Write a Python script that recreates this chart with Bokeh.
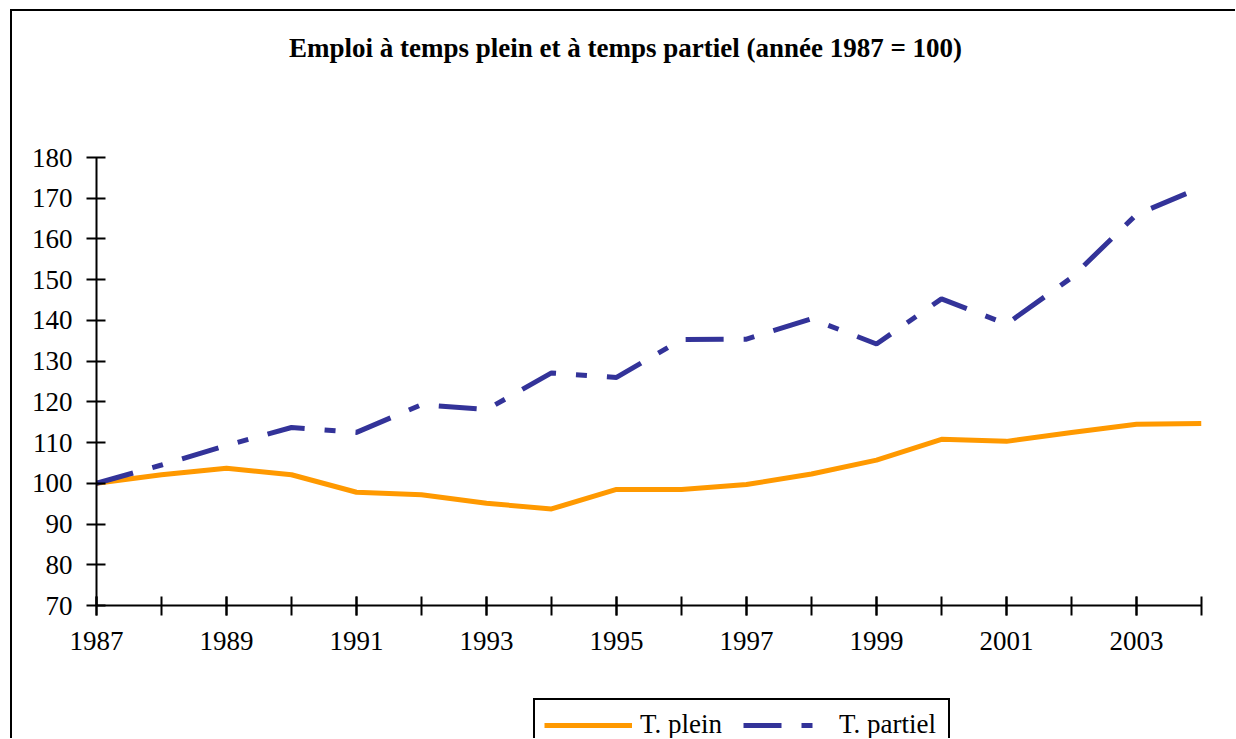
from bokeh.plotting import figure
from bokeh.layouts import column
from bokeh.models import Range1d, FixedTicker, Legend, LegendItem, Label
from bokeh.embed import file_html
from bokeh.resources import INLINE

years = list(range(1987, 2005))
plein = [100, 102.1, 103.7, 102.1, 97.8, 97.2, 95.1, 93.7, 98.5, 98.5,
         99.7, 102.3, 105.7, 110.8, 110.3, 112.5, 114.5, 114.7]
partiel = [100, 104.5, 109.3, 113.7, 112.5, 119.3, 118.1, 127.1, 126.0, 135.3,
           135.4, 140.4, 134.2, 145.3, 139.1, 150.5, 166.0, 172.7]
label_years = [y for y in years if (y - 1987) % 2 == 0]
y_ticks = list(range(70, 181, 10))
title_text = "Emploi à temps plein et à temps partiel (année 1987 = 100)"
series_names = ["T. plein", "T. partiel"]

FONT = "Liberation Serif"
ORANGE = "#FF9900"
BLUE = "#333399"
DASH = "38 20 11 20"
W = 1223
FRAME_W = 1105


def blank(fig):
    fig.outline_line_color = None
    fig.background_fill_color = "white"
    fig.border_fill_color = "white"
    fig.xgrid.visible = False
    fig.ygrid.visible = False


# --- title strip (its frame is aligned with the chart frame by the column) ---
H0 = 89
p0 = figure(width=W, height=H0, output_backend="svg", toolbar_location=None,
            x_range=Range1d(0, FRAME_W), y_range=Range1d(0, H0),
            x_axis_type=None, y_axis_type=None, title=None,
            min_border=0, min_border_left=0, min_border_right=0,
            min_border_top=0, min_border_bottom=0)
blank(p0)
p0.add_layout(Label(x=529, y=53, text=title_text, text_font=FONT,
                    text_font_size="27px", text_font_style="bold",
                    text_align="center", text_baseline="middle",
                    text_color="black"))

# --- main chart ---
p = figure(width=W, height=590, output_backend="svg", toolbar_location=None,
           x_range=Range1d(1987, 2004), y_range=Range1d(70, 180), title=None,
           min_border_left=84, min_border_top=57, min_border_right=34,
           min_border_bottom=85)
blank(p)

p.line(years, plein, line_color=ORANGE, line_width=5)
p.line(years, partiel, line_color=BLUE, line_width=5, line_dash=DASH)

for ax in (p.xaxis[0], p.yaxis[0]):
    ax.axis_line_color = "black"
    ax.axis_line_width = 2
    ax.major_tick_line_color = "black"
    ax.major_tick_line_width = 2
    ax.major_tick_in = 9
    ax.major_tick_out = 10
    ax.minor_tick_line_color = "black"
    ax.minor_tick_line_width = 2
    ax.minor_tick_in = 9
    ax.minor_tick_out = 10
    ax.major_label_text_font = FONT
    ax.major_label_text_font_size = "27px"
    ax.major_label_text_color = "black"

p.xaxis[0].ticker = FixedTicker(ticks=label_years, minor_ticks=years)
p.xaxis[0].major_label_standoff = 16
p.yaxis[0].ticker = FixedTicker(ticks=y_ticks, minor_ticks=[])
p.yaxis[0].major_label_standoff = 14

# --- legend strip (series drawn outside its visible range, only the legend shows) ---
H2 = 48
p2 = figure(width=W, height=H2, output_backend="svg", toolbar_location=None,
            x_range=Range1d(0, 1), y_range=Range1d(0, 1),
            x_axis_type=None, y_axis_type=None, title=None,
            min_border=0, min_border_left=0, min_border_right=0,
            min_border_top=0, min_border_bottom=0)
blank(p2)
l1 = p2.line(years, plein, line_color=ORANGE, line_width=5)
l2 = p2.line(years, partiel, line_color=BLUE, line_width=5, line_dash=DASH)
legend = Legend(items=[LegendItem(label=series_names[0], renderers=[l1]),
                       LegendItem(label=series_names[1], renderers=[l2])],
                orientation="horizontal", location=(437, -13),
                label_text_font=FONT, label_text_font_size="27px",
                label_text_color="black", label_width=100,
                glyph_width=88, glyph_height=20, label_standoff=8, spacing=3,
                padding=9, margin=0, border_line_color="black",
                border_line_alpha=1, border_line_width=2,
                background_fill_color="white", background_fill_alpha=1)
p2.add_layout(legend)

layout = column(p0, p, p2, spacing=0)
layout.styles = {"border-left": "2px solid black", "border-top": "2px solid black",
                 "margin-left": "10px", "margin-top": "9px"}

open("out.html", "w").write(file_html(layout, INLINE))
